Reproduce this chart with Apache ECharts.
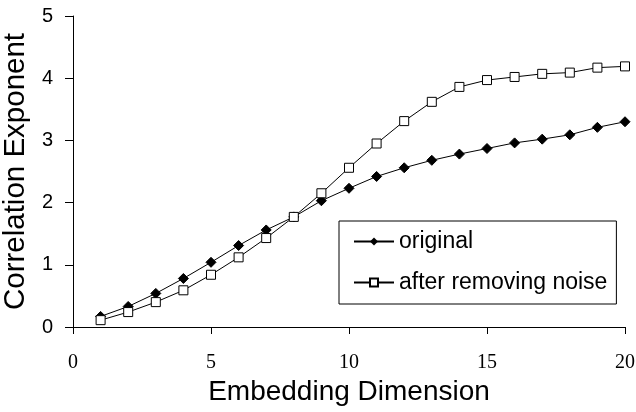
<!DOCTYPE html>
<html>
<head>
  <meta charset="utf-8">
  <title>Correlation Exponent</title>
  <script src="https://cdn.jsdelivr.net/npm/echarts@6/dist/echarts.min.js"></script>
  <style>
    html, body { margin: 0; padding: 0; background: #fff; }
    #main { width: 636px; height: 412px; }
  </style>
</head>
<body>
<div id="main"></div>
<script>
// embedding dimension 1..20
var dims = [1, 2, 3, 4, 5, 6, 7, 8, 9, 10, 11, 12, 13, 14, 15, 16, 17, 18, 19, 20];
var original = [0.17, 0.33, 0.54, 0.78, 1.04, 1.31, 1.56, 1.77, 2.03, 2.23, 2.42, 2.56, 2.68, 2.78, 2.87, 2.96, 3.02, 3.09, 3.21, 3.30];
var denoised = [0.11, 0.24, 0.40, 0.59, 0.84, 1.12, 1.43, 1.77, 2.15, 2.56, 2.95, 3.31, 3.62, 3.86, 3.97, 4.02, 4.07, 4.09, 4.17, 4.19];
var xTicks = [0, 5, 10, 15, 20];
var yTicks = [0, 1, 2, 3, 4, 5];

function pairs(ys) {
  return dims.map(function (d, i) { return [d, ys[i]]; });
}

var chart = echarts.init(document.getElementById('main'));
chart.setOption({
  animation: false,
  backgroundColor: '#fff',
  grid: { left: 73, right: 11, top: 16, bottom: 85, containLabel: false, outerBoundsMode: 'none' },
  legend: {
    orient: 'vertical',
    left: 339,
    top: 221,
    padding: [9, 9, 10, 14],
    itemGap: 18,
    itemWidth: 40,
    itemHeight: 10,
    borderColor: '#000',
    borderWidth: 1,
    textStyle: { fontFamily: 'Liberation Sans', fontSize: 23, color: '#000' },
    data: ['original', 'after removing noise']
  },
  xAxis: {
    type: 'value',
    min: xTicks[0],
    max: xTicks[xTicks.length - 1],
    interval: 5,
    name: 'Embedding Dimension',
    nameLocation: 'middle',
    nameGap: 51,
    nameTextStyle: { fontFamily: 'Liberation Sans', fontSize: 28, color: '#000' },
    axisLine: { lineStyle: { color: '#000', width: 1 } },
    axisTick: { length: 7, lineStyle: { color: '#000' } },
    axisLabel: { fontFamily: 'Liberation Serif', fontSize: 20, color: '#000', margin: 26 },
    splitLine: { show: false }
  },
  yAxis: {
    type: 'value',
    min: yTicks[0],
    max: yTicks[yTicks.length - 1],
    interval: 1,
    name: 'Correlation Exponent',
    nameLocation: 'middle',
    nameGap: 37,
    nameTextStyle: { fontFamily: 'Liberation Sans', fontSize: 29.5, color: '#000' },
    axisLine: { show: true, lineStyle: { color: '#000', width: 1 } },
    axisTick: { show: true, length: 8, lineStyle: { color: '#000' } },
    axisLabel: { fontFamily: 'Liberation Sans', fontSize: 20, color: '#000', margin: 20 },
    splitLine: { show: false }
  },
  series: [
    {
      name: 'original',
      type: 'line',
      data: pairs(original),
      symbol: 'diamond',
      symbolSize: 10,
      lineStyle: { color: '#000', width: 1 },
      itemStyle: { color: '#000', borderColor: '#000' }
    },
    {
      name: 'after removing noise',
      type: 'line',
      data: pairs(denoised),
      symbol: 'rect',
      symbolSize: 9,
      lineStyle: { color: '#000', width: 1 },
      itemStyle: { color: '#fff', borderColor: '#000', borderWidth: 1 }
    }
  ]
});
</script>
</body>
</html>
